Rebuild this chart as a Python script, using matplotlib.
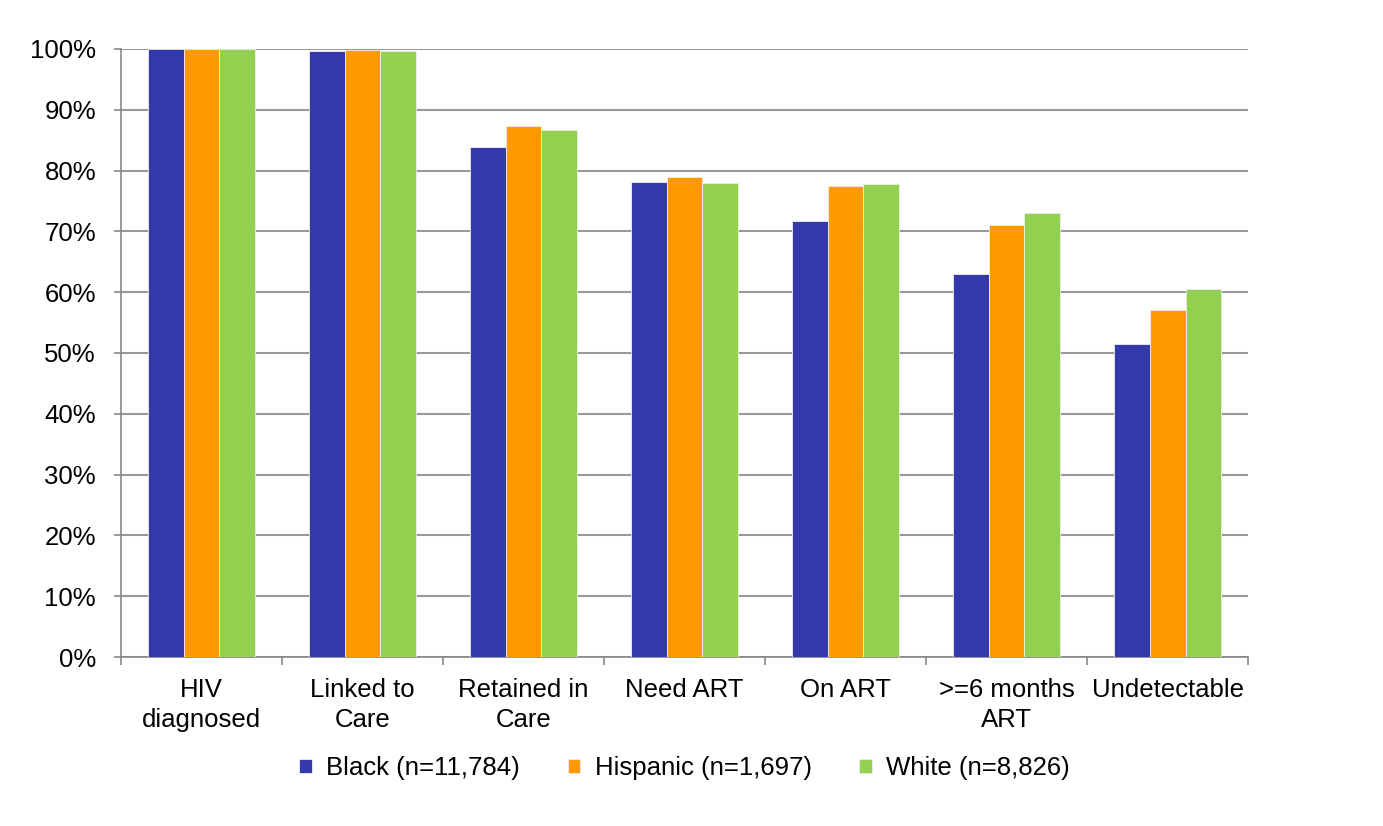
import numpy as np
import matplotlib.pyplot as plt
from matplotlib.ticker import PercentFormatter

plt.rcParams['font.family'] = ['Liberation Sans', 'DejaVu Sans']

# Etapas do contínuo de cuidado do HIV
etapas = ["HIV\ndiagnosed", "Linked to\nCare", "Retained in\nCare", "Need ART",
          "On ART", ">=6 months\nART", "Undetectable"]
black = [100, 99.7, 83.9, 78.1, 71.7, 63.0, 51.4]
hispanic = [100, 99.8, 87.4, 79.0, 77.5, 71.1, 57.1]
white = [100, 99.6, 86.7, 78.0, 77.8, 73.0, 60.5]
grupos = ["Black (n=11,784)", "Hispanic (n=1,697)", "White (n=8,826)"]
cores = ["#3338AB", "#FF9900", "#92D050"]

fs = 18.5

fig = plt.figure(figsize=(13.83, 8.26), dpi=100)
ax = fig.add_axes([0.0875, 0.2046, 0.815, 0.7361])

x = np.arange(len(etapas))
w = 0.222
for i, (vals, nome, cor) in enumerate(zip([black, hispanic, white], grupos, cores)):
    ax.bar(x + (i - 1) * w, vals, w, color=cor, label=nome,
           edgecolor="#EEEEEE", linewidth=0.6, zorder=3)

ax.set_xlim(-0.5, len(etapas) - 0.5)
ax.set_ylim(0, 100)
ax.set_yticks(np.arange(0, 101, 10))
ax.yaxis.set_major_formatter(PercentFormatter(decimals=0))
ax.grid(axis="y", color="#999999", linewidth=1.5, zorder=0)

# marcas do eixo x entre as categorias
ax.set_xticks(np.arange(-0.5, len(etapas)), minor=False)
ax.set_xticklabels([])
ax.set_xticks(x, minor=True)
ax.set_xticklabels(etapas, minor=True, fontsize=fs, linespacing=1.3)
ax.tick_params(axis="x", which="minor", length=0, pad=15)
ax.tick_params(axis="x", which="major", length=6, color="#888888", width=1.2)
ax.tick_params(axis="y", length=5, color="#888888", width=1.2, labelsize=fs, pad=13)

for lado in ["top", "right"]:
    ax.spines[lado].set_visible(False)
for lado in ["left", "bottom"]:
    ax.spines[lado].set_color("#888888")
    ax.spines[lado].set_linewidth(1.2)

ax.legend(loc="center", bbox_to_anchor=(0.5, -0.183), ncol=3, frameon=False,
          fontsize=fs, handlelength=0.5, handleheight=0.5, handletextpad=0.55,
          columnspacing=1.85, borderaxespad=0)

fig.savefig("out.png", dpi=100)
